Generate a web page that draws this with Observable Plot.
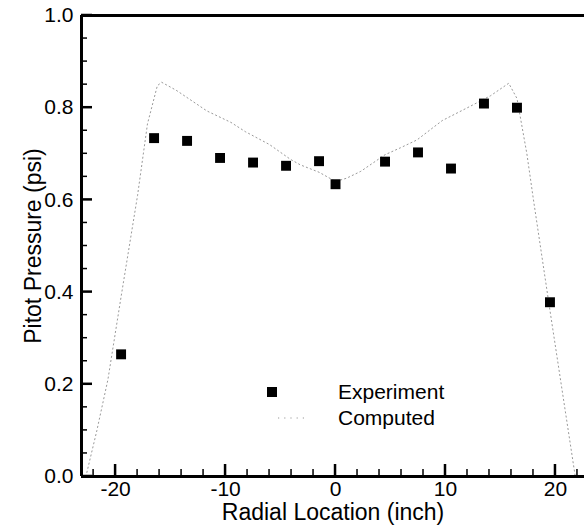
<!DOCTYPE html>
<html>
<head>
<meta charset="utf-8">
<script src="https://cdn.jsdelivr.net/npm/d3@7"></script>
<script src="https://cdn.jsdelivr.net/npm/@observablehq/plot@0.6"></script>
<style>
  html, body { margin: 0; padding: 0; background: #fff; }
</style>
</head>
<body>
<div id="wrap"></div>
<script>
// Experiment (squares)
const expX = [-19.5, -16.5, -13.5, -10.5, -7.5, -4.5, -1.5, 0, 4.5, 7.5, 10.5, 13.5, 16.5, 19.5];
const expY = [0.265, 0.734, 0.728, 0.691, 0.681, 0.674, 0.684, 0.634, 0.683, 0.703, 0.668, 0.809, 0.800, 0.378];

// Computed (dotted line)
const compX = [-22.7, -21.7, -20.7, -19.5, -18.0, -17.1, -16.2, -15.8, -14.5, -13.5, -11.7, -9.5, -8.2, -6.0, -4.1, -3.2, -1.5, 0, 1.0, 2.3, 4.5, 5.9, 7.4, 9.7, 12.0, 14.1, 15.75, 16.5, 17.4, 18.0, 19.5, 21.8];
const compY = [0.0, 0.10, 0.21, 0.39, 0.61, 0.765, 0.848, 0.855, 0.838, 0.822, 0.793, 0.768, 0.748, 0.72, 0.688, 0.676, 0.66, 0.64, 0.647, 0.662, 0.698, 0.713, 0.73, 0.772, 0.80, 0.826, 0.853, 0.82, 0.70, 0.60, 0.36, 0.0];

const xMajor = [-20, -10, 0, 10, 20];
const xMinor = [-22, -18, -16, -14, -12, -8, -6, -4, -2, 2, 4, 6, 8, 12, 14, 16, 18, 22];
const yMajor = [0, 0.2, 0.4, 0.6, 0.8, 1.0];
const yMinor = [0.05, 0.1, 0.15, 0.25, 0.3, 0.35, 0.45, 0.5, 0.55, 0.65, 0.7, 0.75, 0.85, 0.9, 0.95];

const xDomain = [-23.1, 22.64];
const yDomain = [0, 1];

const xLabel = "Radial Location (inch)";
const yLabel = "Pitot Pressure (psi)";
const legendLabels = ["Experiment", "Computed"];

const expData = expX.map((x, i) => ({x, y: expY[i]}));
const compData = compX.map((x, i) => ({x, y: compY[i]}));

const font = "'Liberation Sans', Arial, Helvetica, sans-serif";

const W = 584, H = 528, mL = 81, mR = 0, mT = 15, mB = 52;

const chart = Plot.plot({
  width: W,
  height: H,
  marginLeft: mL,
  marginRight: mR,
  marginTop: mT,
  marginBottom: mB,
  style: {fontFamily: font, fontSize: "21px", color: "#000", background: "#fff", overflow: "visible"},
  x: {domain: xDomain},
  y: {domain: yDomain},
  marks: [
    // tick labels
    Plot.axisX(xMajor, {anchor: "bottom", tickSize: 0, tickPadding: 5, fontSize: 21, label: null, tickFormat: d => String(d)}),
    Plot.axisY(yMajor, {anchor: "left", tickSize: 0, tickPadding: 8, fontSize: 21, label: null, tickFormat: d3.format(".1f")}),
    // data
    Plot.line(compData, {x: "x", y: "y", stroke: "#999", strokeWidth: 1, strokeDasharray: "1.2,3"}),
    Plot.dot(expData, {x: "x", y: "y", symbol: "square", r: 5.6, fill: "#000", stroke: null}),
    // frame lines
    Plot.ruleY([yDomain[0]], {stroke: "#000", strokeWidth: 3}),
    Plot.ruleY([yDomain[1]], {stroke: "#000", strokeWidth: 3}),
    Plot.ruleX([xDomain[0]], {stroke: "#000", strokeWidth: 3}),
    // axis titles
    Plot.text([xLabel], {frameAnchor: "bottom", textAnchor: "middle", text: d => d, dy: 36, fontSize: 23, lineAnchor: "middle", fill: "#000"}),
    Plot.text([yLabel], {frameAnchor: "left", textAnchor: "middle", text: d => d, dx: -48, rotate: -90, fontSize: 23, lineAnchor: "middle", fill: "#000"})
  ]
});

document.getElementById("wrap").appendChild(chart);

const ns = "http://www.w3.org/2000/svg";

// inward ticks, positioned through the chart's own x and y scales
const sx = chart.scale("x");
const sy = chart.scale("y");
const x0 = sx.apply(xDomain[0]);
const y0 = sy.apply(yDomain[0]);
const tg = document.createElementNS(ns, "g");
tg.setAttribute("aria-label", "inward ticks");
tg.setAttribute("stroke", "#000");
function addLine(x1, y1, x2, y2, w) {
  const l = document.createElementNS(ns, "line");
  l.setAttribute("x1", x1); l.setAttribute("y1", y1);
  l.setAttribute("x2", x2); l.setAttribute("y2", y2);
  l.setAttribute("stroke", "#000");
  l.setAttribute("stroke-width", w);
  tg.appendChild(l);
}
xMajor.forEach(v => { const px = sx.apply(v); addLine(px, y0, px, y0 - 12, 2.5); });
xMinor.forEach(v => { const px = sx.apply(v); addLine(px, y0, px, y0 - 7, 1.5); });
yMajor.forEach(v => { const py = sy.apply(v); addLine(x0, py, x0 + 11, py, 2.5); });
yMinor.forEach(v => { const py = sy.apply(v); addLine(x0, py, x0 + 6, py, 1.5); });
chart.appendChild(tg);

// legend, appended inside the chart's own svg
const lg = document.createElementNS(ns, "g");
lg.setAttribute("aria-label", "legend");
lg.setAttribute("text-anchor", "start");
const sq = document.createElementNS(ns, "rect");
sq.setAttribute("x", 267); sq.setAttribute("y", 387); sq.setAttribute("width", 10); sq.setAttribute("height", 10);
sq.setAttribute("fill", "#000");
lg.appendChild(sq);
const ln = document.createElementNS(ns, "line");
ln.setAttribute("x1", 278); ln.setAttribute("x2", 306); ln.setAttribute("y1", 418); ln.setAttribute("y2", 418);
ln.setAttribute("stroke", "#999"); ln.setAttribute("stroke-width", 1); ln.setAttribute("stroke-dasharray", "1.2,5");
lg.appendChild(ln);
legendLabels.forEach((t, i) => {
  const tx = document.createElementNS(ns, "text");
  tx.setAttribute("x", 338); tx.setAttribute("y", 399 + i * 26);
  tx.setAttribute("font-size", 21);
  tx.setAttribute("font-family", font);
  tx.setAttribute("text-anchor", "start");
  tx.setAttribute("fill", "#000");
  tx.textContent = t;
  lg.appendChild(tx);
});
chart.appendChild(lg);
</script>
</body>
</html>
